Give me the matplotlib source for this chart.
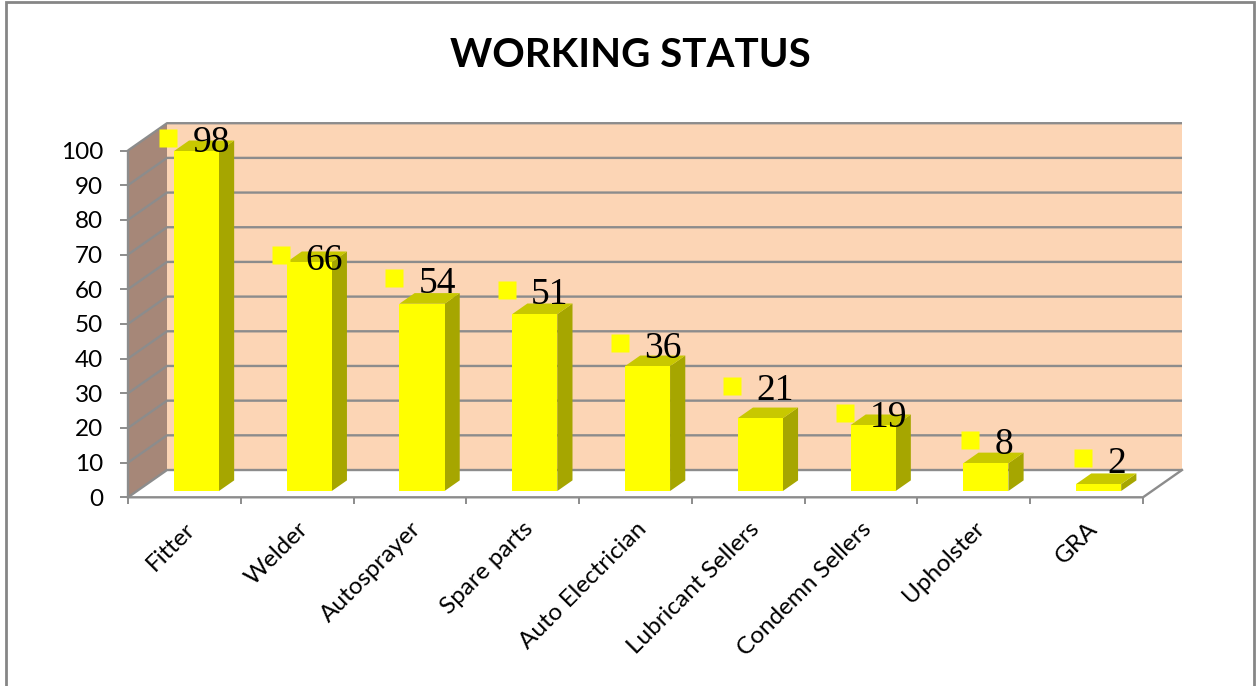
import matplotlib
matplotlib.use("Agg")
import matplotlib.pyplot as plt
from matplotlib.patches import Polygon, Rectangle
from matplotlib.transforms import offset_copy

# chart data
categories = ["Fitter", "Welder", "Autosprayer", "Spare parts", "Auto Electrician",
              "Lubricant Sellers", "Condemn Sellers", "Upholster", "GRA"]
values = [98, 66, 54, 51, 36, 21, 19, 8, 2]
y_ticks = list(range(0, 101, 10))

# label nudges (pixels above the bar top), as Excel placed them
label_dy = [-13.5, -7, -25.5, -24.5, -23, -32.5, -12.5, -23.5, -26]

# 3d look: depth offset of the back wall in data units
DX = 0.3458
DY = 7.87
D0, D1 = 0.23, 0.62      # bar front / back depth
BAR_L, BAR_W = 0.327, 0.40

WALL = "#FCD5B5"
SIDE_WALL = "#A68778"
GRID = "#8C8C8C"

W, H = 1256, 686
fig = plt.figure(figsize=(W / 100, H / 100), dpi=100)
ax = fig.add_axes([128 / W, (H - 497.3) / H, 1015 / W, 346.8 / H])
ax.set_xlim(0, len(categories))
ax.set_ylim(0, 100)
ax.patch.set_visible(False)
for s in ax.spines.values():
    s.set_visible(False)

n = len(categories)


def P(x, v, d):
    return (x + d * DX, v + d * DY)


# walls and floor
ax.add_patch(Polygon([P(0, 0, 1), P(n, 0, 1), P(n, 100, 1), P(0, 100, 1)],
                     closed=True, facecolor=WALL, edgecolor="none", zorder=1, clip_on=False))
ax.add_patch(Polygon([P(0, 0, 0), P(0, 0, 1), P(0, 100, 1), P(0, 100, 0)],
                     closed=True, facecolor=SIDE_WALL, edgecolor="none", zorder=1, clip_on=False))
ax.add_patch(Polygon([P(0, 0, 0), P(n, 0, 0), P(n, 0, 1), P(0, 0, 1)],
                     closed=True, facecolor="white", edgecolor="none", zorder=1, clip_on=False))

for v in y_ticks:
    pts = [P(0, v, 0), P(0, v, 1), P(n, v, 1)]
    ax.plot([p[0] for p in pts], [p[1] for p in pts], color=GRID, lw=1.7,
            zorder=2, clip_on=False, solid_capstyle="butt")

# floor edges and value axis line
for pts in ([P(0, 0, 0), P(n, 0, 0), P(n, 0, 1)], [P(0, 0, 0), P(0, 100, 0)]):
    ax.plot([p[0] for p in pts], [p[1] for p in pts], color=GRID, lw=1.7,
            zorder=2, clip_on=False)

# bars
for k, v in enumerate(values):
    xl = k + BAR_L
    xr = xl + BAR_W
    front = [P(xl, 0, D0), P(xr, 0, D0), P(xr, v, D0), P(xl, v, D0)]
    side = [P(xr, 0, D0), P(xr, 0, D1), P(xr, v, D1), P(xr, v, D0)]
    top = [P(xl, v, D0), P(xr, v, D0), P(xr, v, D1), P(xl, v, D1)]
    ax.add_patch(Polygon(side, closed=True, facecolor="#A6A600", edgecolor="none",
                         zorder=3, clip_on=False))
    ax.add_patch(Polygon(top, closed=True, facecolor="#C8C800", edgecolor="none",
                         zorder=3, clip_on=False))
    ax.add_patch(Polygon(front, closed=True, facecolor="#FFFF00", edgecolor="none",
                         zorder=3, clip_on=False))

    # data label: yellow key square + value
    cx, cy = P(xl + BAR_W / 2, v, D0)
    nd = len(str(v))
    sq_dx = -4 - 12 * nd
    sq_dy = label_dy[k]
    tr = offset_copy(ax.transData, fig=fig, x=sq_dx * 0.72, y=-sq_dy * 0.72, units="points")
    ax.plot([cx], [cy], marker="s", markersize=13.5, color="#FFFF00", mec="none",
            transform=tr, zorder=5, clip_on=False)
    ax.annotate(str(v), xy=(cx, cy), xytext=((sq_dx + 24.5) * 0.72, -(sq_dy + 14.5) * 0.72),
                textcoords="offset points", ha="left", va="baseline",
                fontfamily="Liberation Serif", fontsize=27, zorder=6)

# axes ticks
ax.set_yticks(y_ticks)
ax.tick_params(axis="y", length=5.8, width=1.4, color=GRID, pad=12, labelsize=17.5)
ax.set_xticks([k + 0.5 for k in range(n)])
ax.set_xticklabels(categories)
ax.set_xticks(range(n + 1), minor=True)
ax.tick_params(axis="x", which="major", length=0, pad=15, labelsize=17.5)
ax.tick_params(axis="x", which="minor", length=5, width=1.4, color=GRID)
for lab in ax.get_xticklabels() + ax.get_yticklabels():
    lab.set_fontfamily("Lato")
plt.setp(ax.get_xticklabels(), rotation=45, ha="right", rotation_mode="anchor")

fig.text(0.5015, 1 - 67 / H, "WORKING STATUS", ha="center", va="baseline",
         fontfamily="Lato", fontweight="bold", fontsize=29)

fig.add_artist(Rectangle((6 / W, -0.01), 1248 / W, 1.01 - 2 / H, transform=fig.transFigure,
                         fill=False, edgecolor="#868686", lw=2))

fig.savefig("out.png", dpi=100)
